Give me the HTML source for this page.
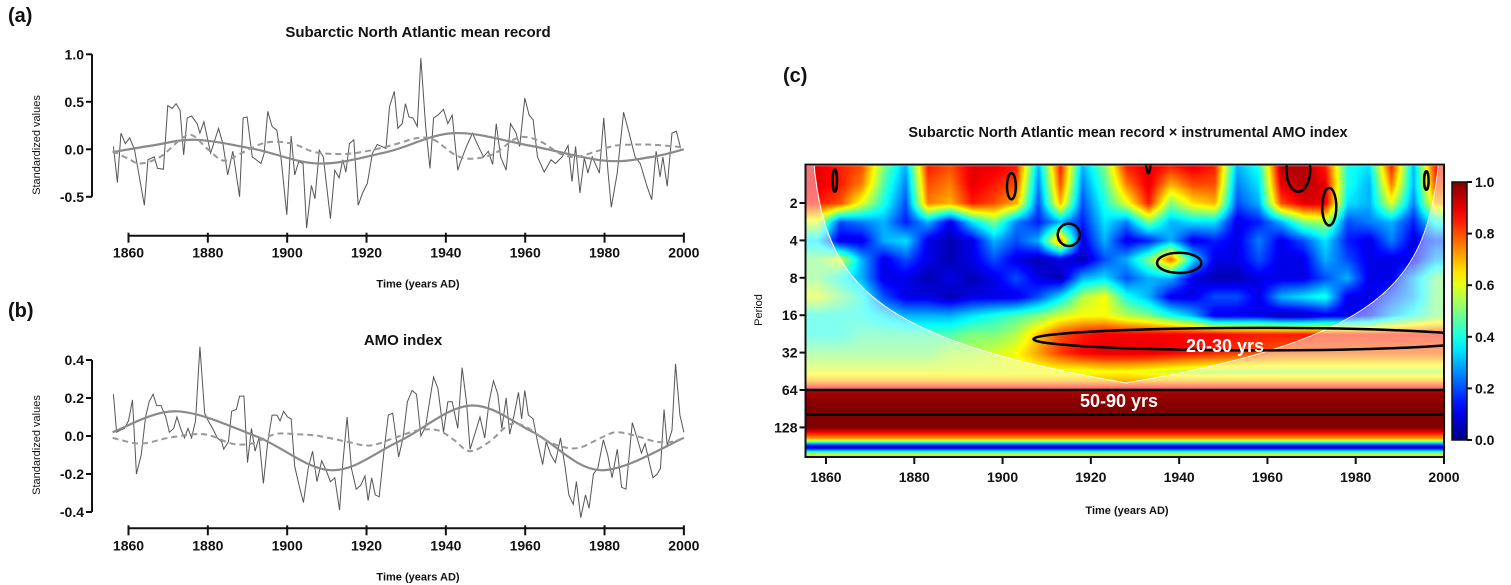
<!DOCTYPE html>
<html><head><meta charset="utf-8"><style>
html,body{margin:0;padding:0;background:#fff;}
#wrap{position:relative;width:1511px;height:585px;overflow:hidden;font-family:"Liberation Sans",Arial,sans-serif;}
#hm{position:absolute;left:0;top:0;}
#svg{position:absolute;left:0;top:0;}
text{font-family:"Liberation Sans Narrow","Liberation Sans",Arial,sans-serif;}
</style></head><body>
<div id="wrap">
<canvas id="hm" width="1511" height="585"></canvas>
<svg id="svg" width="1511" height="585" xmlns="http://www.w3.org/2000/svg"></svg>
</div>
<script>
// ---------- Panel (a) data ----------
const yearsA=[1856.2,1857.2,1858.1,1859.2,1860.3,1861.5,1864,1864.9,1866.5,1867.3,1868.8,1869.9,1871,1872,1873,1873.9,1874.8,1875.9,1877.3,1878,1879,1880.7,1882.7,1883.8,1885,1886.3,1888,1888.9,1889.9,1891.2,1892.2,1893.4,1894.2,1895.1,1896.2,1897.4,1898.5,1899.9,1901,1901.9,1902.9,1904,1904.9,1906.1,1907,1908.1,1909.1,1910.9,1912,1913.1,1914,1914.8,1915.7,1916.8,1917.9,1919,1920.2,1921.5,1922.7,1923.8,1924.9,1925.8,1927,1927.9,1929,1929.8,1930.7,1931.7,1932.8,1933.7,1934.9,1936,1936.9,1938,1939.4,1940.5,1941.6,1943,1943.9,1945.2,1946.7,1948.2,1949.5,1950.7,1951.8,1952.7,1953.8,1955.2,1956.3,1957.7,1958.6,1959.9,1961,1962,1963.1,1964.8,1966.5,1967.6,1969.3,1970.8,1971.8,1972.7,1973.8,1974.9,1975.8,1976.9,1978.7,1979.8,1980.9,1981.7,1983.2,1984.8,1986.2,1987.7,1989,1990.7,1991.9,1993,1994,1994.7,1995.8,1997,1998.1,1999.2];
const valuesA=[0.03,-0.35,0.17,0.06,0.12,0.0,-0.59,-0.11,-0.08,-0.2,-0.21,0.46,0.43,0.48,0.41,-0.06,0.33,0.35,0.27,0.17,0.29,-0.04,0.22,0.06,-0.27,-0.02,-0.5,0.33,0.34,-0.08,-0.11,-0.15,-0.04,0.4,0.24,0.2,-0.11,-0.69,0.14,-0.27,-0.13,-0.15,-0.83,-0.38,-0.52,-0.01,-0.08,-0.73,-0.22,-0.3,-0.11,-0.24,0.06,0.1,-0.59,-0.46,-0.36,-0.04,0.05,0.03,0.01,0.45,0.61,0.22,0.27,0.48,0.34,0.33,0.24,0.96,0.24,-0.2,0.33,0.36,0.42,0.27,0.36,-0.22,-0.11,0.03,0.17,0.03,-0.08,-0.02,-0.16,0.27,-0.08,-0.22,0.27,0.17,0.03,0.54,0.36,0.31,-0.08,-0.24,-0.11,-0.15,-0.08,0.04,-0.34,0.03,-0.46,-0.09,-0.25,-0.08,-0.25,0.33,-0.25,-0.61,-0.25,0.39,0.17,-0.08,-0.15,-0.39,-0.53,-0.02,-0.29,-0.08,-0.39,0.17,0.19,0.01];
const smoothYearsA=[1856,1866,1877,1892,1908,1925,1942,1961,1980,1992,2000];
const smoothValuesA=[-0.03,0.04,0.1,0.0,-0.15,-0.03,0.17,0.04,-0.12,-0.08,0.0];
const dashYearsA=[1856,1860,1863,1868,1873,1876,1880,1884,1888,1893,1897,1902,1907,1914,1920,1927,1933,1937,1942,1946,1952,1957,1960,1964,1969,1973,1978,1983,1990,1995,2000];
const dashValuesA=[-0.02,-0.1,-0.15,-0.08,0.1,0.15,0.0,-0.12,-0.05,0.05,0.08,0.05,-0.03,-0.05,-0.02,0.05,0.12,0.1,-0.05,-0.1,-0.05,0.1,0.13,0.08,-0.05,-0.08,-0.02,0.04,0.05,0.04,0.02];
const ticksYA=[1.0,0.5,0.0,-0.5];
// ---------- Panel (b) data ----------
const yearsB=[1856.2,1857,1857.9,1859,1860,1861,1862,1863.2,1864.3,1865.2,1866.2,1867.1,1868.2,1869.4,1870.3,1871.4,1872.2,1873.3,1874.1,1875,1875.9,1876.9,1878,1879.2,1880.1,1881.2,1882.4,1883.5,1884,1885.2,1886,1887.2,1888,1889.1,1890,1891,1891.9,1892.9,1894,1895.1,1896.2,1897.4,1898.2,1899.1,1900.1,1901,1901.9,1903,1904.1,1905.3,1906.4,1907.5,1908.7,1909.8,1910.9,1912,1913.2,1914,1915.1,1916.2,1917.4,1918.5,1919.6,1920.4,1921.3,1922.2,1923.2,1924.4,1925.5,1926.6,1928.1,1929.2,1930.3,1931.5,1932.6,1933.7,1934.9,1935.8,1936.9,1938,1939.4,1940.5,1941.6,1943,1944.1,1945.2,1946.1,1947.3,1948.6,1949.8,1950.9,1952,1953.1,1954.1,1955.2,1956.1,1957.2,1958.3,1959.1,1959.9,1960.8,1962,1963.1,1964.4,1965.3,1966.5,1967.6,1968.9,1970.1,1971,1972.1,1972.9,1974,1975.2,1976.1,1977.2,1978.3,1979.7,1980.8,1981.9,1983.2,1984.3,1985.4,1987,1988.2,1989.3,1990.2,1991.3,1992.2,1993.3,1994.1,1995,1995.8,1997,1997.9,1999,2000];
const valuesB=[0.22,0.02,0.03,0.04,0.08,0.19,-0.2,-0.1,0.1,0.18,0.22,0.16,0.16,0.1,0.02,0.04,0.1,0.03,-0.01,0.04,-0.01,0.08,0.47,0.12,0.08,0.04,-0.01,-0.03,-0.07,-0.03,0.13,0.14,0.21,0.21,-0.14,0.04,-0.08,-0.01,-0.25,-0.03,0.11,0.11,0.08,0.13,0.1,0.09,-0.16,-0.26,-0.35,-0.17,-0.08,-0.24,-0.13,-0.18,-0.24,-0.22,-0.39,-0.15,0.1,-0.17,-0.28,-0.26,-0.21,-0.34,-0.22,-0.31,-0.32,-0.08,0.11,0.12,-0.11,-0.01,0.18,0.24,0.22,0.0,0.05,0.17,0.31,0.25,0.02,0.18,0.18,0.04,0.36,0.18,-0.07,0.01,0.1,-0.01,0.18,0.29,0.22,0.04,0.2,0.01,0.11,0.23,0.09,0.24,0.11,0.09,-0.03,-0.15,-0.03,-0.1,-0.14,-0.01,-0.17,-0.31,-0.36,-0.24,-0.43,-0.31,-0.38,-0.2,-0.17,-0.02,-0.1,-0.22,-0.07,-0.27,-0.28,0.07,-0.01,-0.09,-0.04,-0.14,-0.22,-0.2,-0.17,0.14,-0.05,0.03,0.38,0.11,0.02];
const smoothYearsB=[1856,1872,1892,1911,1928,1946,1962,1979,2000];
const smoothValuesB=[0.02,0.13,0.0,-0.18,-0.03,0.16,0.02,-0.18,-0.01];
const dashYearsB=[1856,1863,1870,1877,1881,1886,1891,1897,1902,1908,1915,1921,1927,1933,1938,1942,1946,1951,1956,1960,1965,1970,1974,1979,1983,1988,1993,1997,2000];
const dashValuesB=[-0.01,-0.04,-0.01,0.01,0.0,-0.04,-0.04,0.01,0.01,0.0,-0.03,-0.05,-0.01,0.03,0.03,-0.02,-0.08,-0.03,0.06,0.05,-0.02,-0.06,-0.06,-0.01,0.02,0.0,-0.03,-0.03,-0.01];
const ticksYB=[0.4,0.2,0.0,-0.2,-0.4];
const ticksX=[1860,1880,1900,1920,1940,1960,1980,2000];
// ---------- Panel (c) data ----------
const gridYears=[1858,1863,1868,1873,1878,1883,1888,1893,1898,1903,1908,1913,1918,1923,1928,1933,1938,1943,1948,1953,1958,1963,1968,1973,1978,1983,1988,1993,1998];
const gridLog2=[0,0.5,1,1.5,2,2.5,3,3.5,4,4.5,5,5.5];
const coh0=[0.9,0.85,0.8,0.5,0.3,0.85,0.8,0.9,0.9,0.85,0.3,0.85,0.3,0.5,0.85,0.9,0.85,0.9,0.85,0.3,0.4,0.95,0.95,0.85,0.4,0.35,0.85,0.3,0.85];
const coh1=[0.9,0.85,0.75,0.45,0.25,0.8,0.75,0.9,0.85,0.8,0.25,0.8,0.25,0.45,0.75,0.9,0.7,0.8,0.8,0.25,0.35,0.9,0.95,0.9,0.4,0.3,0.75,0.3,0.8];
const coh2=[0.85,0.8,0.6,0.4,0.2,0.75,0.7,0.85,0.8,0.7,0.2,0.7,0.2,0.4,0.6,0.85,0.5,0.65,0.7,0.2,0.3,0.8,0.9,0.9,0.35,0.3,0.6,0.25,0.7];
const coh3=[0.6,0.2,0.25,0.3,0.15,0.3,0.1,0.35,0.5,0.25,0.15,0.3,0.15,0.35,0.25,0.5,0.3,0.35,0.35,0.1,0.15,0.3,0.5,0.55,0.2,0.25,0.3,0.15,0.4];
const coh4=[0.35,0.1,0.1,0.3,0.35,0.1,0.05,0.1,0.3,0.2,0.3,0.75,0.1,0.3,0.1,0.15,0.3,0.1,0.15,0.1,0.25,0.1,0.2,0.35,0.15,0.1,0.25,0.1,0.2];
const coh5=[0.5,0.6,0.3,0.1,0.2,0.1,0.05,0.1,0.2,0.1,0.05,0.1,0.05,0.2,0.3,0.5,0.78,0.35,0.1,0.1,0.2,0.1,0.1,0.3,0.2,0.1,0.1,0.1,0.3];
const coh6=[0.5,0.4,0.3,0.1,0.1,0.05,0.1,0.05,0.1,0.2,0.1,0.05,0.3,0.35,0.2,0.3,0.3,0.1,0.05,0.05,0.1,0.1,0.1,0.2,0.3,0.1,0.1,0.3,0.5];
const coh7=[0.6,0.5,0.4,0.2,0.1,0.1,0.05,0.1,0.1,0.1,0.2,0.35,0.55,0.62,0.4,0.3,0.1,0.1,0.2,0.2,0.1,0.3,0.35,0.4,0.1,0.1,0.2,0.3,0.5];
const coh8=[0.4,0.4,0.4,0.35,0.3,0.3,0.3,0.35,0.4,0.45,0.5,0.58,0.62,0.62,0.55,0.5,0.4,0.3,0.1,0.1,0.1,0.05,0.05,0.1,0.1,0.15,0.3,0.4,0.5];
const coh9=[0.4,0.4,0.45,0.45,0.45,0.45,0.45,0.5,0.5,0.55,0.68,0.8,0.85,0.88,0.88,0.88,0.88,0.88,0.88,0.86,0.85,0.85,0.85,0.84,0.84,0.84,0.84,0.84,0.84];
const coh10=[0.5,0.5,0.5,0.5,0.5,0.5,0.55,0.55,0.58,0.62,0.72,0.82,0.88,0.9,0.9,0.9,0.88,0.86,0.84,0.82,0.8,0.78,0.78,0.78,0.78,0.78,0.78,0.78,0.78];
const coh11=[0.6,0.6,0.6,0.6,0.6,0.6,0.6,0.6,0.6,0.6,0.6,0.6,0.6,0.62,0.62,0.6,0.58,0.56,0.55,0.55,0.55,0.55,0.55,0.55,0.55,0.55,0.55,0.55,0.55];
const bandLog2=[5.75,5.85,5.95,6.1,6.5,7.0,7.1,7.2,7.3,7.35,7.42,7.5,7.56,7.62,7.68,7.74,7.8,7.9];
const bandValues=[0.7,0.8,0.9,0.97,1.0,1.0,0.9,0.8,0.7,0.55,0.3,0.08,0.15,0.35,0.5,0.65,0.8,0.9];
const contourYear=[1862,1902,1933,1915,1940,1967,1974,1996];
const contourLog2=[0.4,0.55,-0.1,1.85,2.6,0.1,1.1,0.4];
const contourRx=[0.5,1,0.5,2.5,5,2.7,1.6,0.5];
const contourRy=[0.3,0.35,0.3,0.3,0.27,0.6,0.5,0.25];
const bigContourYear=1958, bigContourLog2=4.64, bigContourRx=51, bigContourRy=0.3;
const bandLineLog2=[6.0,6.66];
const periodTicks=[2,4,8,16,32,64,128];
const cbTicks=[1.0,0.8,0.6,0.4,0.2,0.0];

const coh=[coh0,coh1,coh2,coh3,coh4,coh5,coh6,coh7,coh8,coh9,coh10,coh11];
const NS="http://www.w3.org/2000/svg";
const svg=document.getElementById('svg');
function el(tag,attrs,parent,txt){const e=document.createElementNS(NS,tag);for(const k in attrs)e.setAttribute(k,attrs[k]);if(txt!==undefined)e.textContent=txt;(parent||svg).appendChild(e);return e;}
function txt(x,y,s,size,anchor,parent,extra){const t=el('text',Object.assign({x:x,y:y,'font-size':size,'font-weight':'bold','text-anchor':anchor||'middle',fill:'#111'},extra||{}),parent,s);return t;}
function smoothPath(pts){let d='M'+pts[0][0]+','+pts[0][1];for(let i=0;i<pts.length-1;i++){const p0=pts[i-1]||pts[i],p1=pts[i],p2=pts[i+1],p3=pts[i+2]||p2;const c1=[p1[0]+(p2[0]-p0[0])/6,p1[1]+(p2[1]-p0[1])/6],c2=[p2[0]-(p3[0]-p1[0])/6,p2[1]-(p3[1]-p1[1])/6];d+=' C'+c1[0]+','+c1[1]+' '+c2[0]+','+c2[1]+' '+p2[0]+','+p2[1];}return d;}

function linePanel(cfg){
  const g=el('g',{});
  
  
  const X=yr=>128.5+(yr-1860)*3.967;
  const Y=v=>cfg.y0-v*cfg.k;
  const lbl=txt(8,cfg.labelY,cfg.label,20,'start',g,{'font-family':'Liberation Sans'});
  
  
  const t=txt(cfg.titleX,cfg.titleY,cfg.title,15,'middle',g,{'font-family':'Liberation Sans'});
  
  
  const ya=el('g',{},g);
  
  
  const yt=cfg.yticks;
  el('line',{x1:92,x2:92,y1:Y(yt[0]),y2:Y(yt[yt.length-1]),stroke:'#111','stroke-width':2},ya);
  yt.forEach(v=>{el('line',{x1:86,x2:92,y1:Y(v),y2:Y(v),stroke:'#111','stroke-width':2},ya);
    const tl=txt(84,Y(v)+5,v.toFixed(1),14,'end',ya);
    
    });
  const yl=txt(0,0,'Standardized values',11,'middle',g,{transform:'translate(40,'+cfg.ytitleY+') rotate(-90)','font-family':'DejaVu Sans','font-weight':'normal'});
  
  
  const xa=el('g',{},g);
  
  
  el('line',{x1:X(1860),x2:X(2000),y1:cfg.axisY,y2:cfg.axisY,stroke:'#111','stroke-width':2},xa);
  ticksX.forEach(yr=>{el('line',{x1:X(yr),x2:X(yr),y1:cfg.axisY-3,y2:cfg.axisY+7,stroke:'#111','stroke-width':2},xa);
    const tl=txt(X(yr),cfg.axisY+22,String(yr),14,'middle',xa);
    
    });
  const xl=txt(418,cfg.axisY+52,'Time  (years AD)',11,'middle',g);
  
  
  const raw=el('polyline',{points:cfg.years.map((yr,i)=>X(yr)+','+Y(cfg.values[i])).join(' '),fill:'none',stroke:'#555','stroke-width':1},g);
  
  
  const sm=el('path',{d:smoothPath(cfg.sy.map((yr,i)=>[X(yr),Y(cfg.sv[i])])),fill:'none',stroke:'#8a8a8a','stroke-width':2.2},g);
  
  
  const ds=el('path',{d:smoothPath(cfg.dy.map((yr,i)=>[X(yr),Y(cfg.dv[i])])),fill:'none',stroke:'#999','stroke-width':2,'stroke-dasharray':'6,4'},g);
  
  
}
linePanel({name:'panel-a',label:'(a)',labelY:22,title:'Subarctic North Atlantic mean record',titleX:418,titleY:37,y0:149.3,k:95,yticks:ticksYA,ytitleY:145,axisY:235.7,years:yearsA,values:valuesA,sy:smoothYearsA,sv:smoothValuesA,dy:dashYearsA,dv:dashValuesA});
linePanel({name:'panel-b',label:'(b)',labelY:317,title:'AMO index',titleX:403,titleY:345,y0:436,k:190,yticks:ticksYB,ytitleY:445,axisY:528.3,years:yearsB,values:valuesB,sy:smoothYearsB,sv:smoothValuesB,dy:dashYearsB,dv:dashValuesB});

// ---------- Panel (c) ----------
const PL=805.5,PR=1444,PT=165.6,PB=457;
const XC=yr=>826+(yr-1860)*(1444-826)/140;
const YC=l=>PT+l*37.4;
const yrOf=x=>1860+(x-826)*140/(1444-826);
function jet(v){const c=t=>Math.max(0,Math.min(1,t));return [c(1.5-Math.abs(4*v-3)),c(1.5-Math.abs(4*v-2)),c(1.5-Math.abs(4*v-1))].map(z=>Math.round(z*255));}
function interp1(xs,vs,x){if(x<=xs[0])return vs[0];if(x>=xs[xs.length-1])return vs[vs.length-1];let i=0;while(xs[i+1]<x)i++;const f=(x-xs[i])/(xs[i+1]-xs[i]);return vs[i]*(1-f)+vs[i+1]*f;}
function coiLog2(yr){const d=Math.min(yr-1856,2000-yr);return d>0?Math.log2(0.78*d):-5;}
const ctx=document.getElementById('hm').getContext('2d');
const W=Math.round(PR-PL),H=Math.round(PB-PT);
const img=ctx.createImageData(W,H);
for(let px=0;px<W;px++){const yr=yrOf(PL+px+0.5);const cl=coiLog2(yr);const col=coh.map(r=>interp1(gridYears,r,yr));
  for(let py=0;py<H;py++){const l=(py+0.5)/37.4;let v;
    if(l<=5.5)v=interp1(gridLog2,col,l);else if(l>=5.75)v=interp1(bandLog2,bandValues,l);else{const f=(l-5.5)/0.25;v=interp1(gridLog2,col,5.5)*(1-f)+interp1(bandLog2,bandValues,5.75)*f;}
    let c=jet(v);if(l>cl&&l<5.95){c=c.map(z=>Math.round(z*0.55+255*0.45));}
    const i=(py*W+px)*4;img.data[i]=c[0];img.data[i+1]=c[1];img.data[i+2]=c[2];img.data[i+3]=255;}}
ctx.putImageData(img,Math.round(PL),Math.round(PT));

const gc=el('g',{});


const lc=txt(783,82,'(c)',20,'start',gc,{'font-family':'Liberation Sans'});


const tc=txt(1128,137,'Subarctic North Atlantic mean record × instrumental AMO index',14.5,'middle',gc,{'font-family':'Liberation Sans'});


const defs=el('defs',{},gc);
const cp=el('clipPath',{id:'plotclip'},defs);
el('rect',{x:PL,y:PT,width:PR-PL,height:PB-PT},cp);
let coiPts=[];for(let yr=1856.5;yr<=1999.5;yr+=0.5){const l=Math.min(coiLog2(yr),5.95);coiPts.push(XC(yr)+','+YC(Math.max(l,-1)));}
const coi=el('polyline',{points:coiPts.join(' '),fill:'none',stroke:'#fff','stroke-width':1,'clip-path':'url(#plotclip)'},gc);


const cg=el('g',{'clip-path':'url(#plotclip)'},gc);


contourYear.forEach((yr,i)=>{const e=el('ellipse',{cx:XC(yr),cy:YC(contourLog2[i]),rx:contourRx[i]*4.414,ry:contourRy[i]*37.4,fill:'none',stroke:'#000','stroke-width':2.5},cg);
  
  });
const bc=el('ellipse',{cx:XC(bigContourYear),cy:YC(bigContourLog2),rx:bigContourRx*4.414,ry:bigContourRy*37.4,fill:'none',stroke:'#000','stroke-width':2.5},cg);


bandLineLog2.forEach(l=>{const ln=el('line',{x1:PL,x2:PR,y1:YC(l),y2:YC(l),stroke:'#000','stroke-width':2.5},cg);
  
  });
const a1=txt(1225,352,'20-30 yrs',18,'middle',gc,{fill:'#fff'});


const a2=txt(1119,407,'50-90 yrs',18,'middle',gc,{fill:'#fff'});


const fr=el('rect',{x:PL,y:PT-1,width:PR-PL,height:PB-PT+1,fill:'none',stroke:'#111','stroke-width':2},gc);


const yac=el('g',{},gc);


periodTicks.forEach(p=>{const y=YC(Math.log2(p));el('line',{x1:PL-6,x2:PL,y1:y,y2:y,stroke:'#111','stroke-width':2},yac);
  const t=txt(PL-8,y+5,String(p),14,'end',yac);
  
  });
const pt=txt(0,0,'Period',11,'middle',gc,{transform:'translate(762,310) rotate(-90)','font-family':'DejaVu Sans','font-weight':'normal'});


const xac=el('g',{},gc);


ticksX.forEach(yr=>{el('line',{x1:XC(yr),x2:XC(yr),y1:PB,y2:PB+7,stroke:'#111','stroke-width':2},xac);
  const t=txt(XC(yr),PB+25,String(yr),14,'middle',xac);
  
  });
const xtc=txt(1127,514,'Time  (years AD)',11,'middle',gc);


const CBL=1452,CBR=1467,CBT=182,CBB=440;
const lg=el('linearGradient',{id:'jetg',x1:0,y1:1,x2:0,y2:0},defs);
for(let i=0;i<=20;i++){const c=jet(i/20);el('stop',{offset:(i/20),'stop-color':'rgb('+c.join(',')+')'},lg);}
const cb=el('rect',{x:CBL,y:CBT,width:CBR-CBL,height:CBB-CBT,fill:'url(#jetg)',stroke:'#111','stroke-width':1.5},gc);


cbTicks.forEach(v=>{const y=CBB-v*(CBB-CBT);el('line',{x1:CBR,x2:CBR+5,y1:y,y2:y,stroke:'#111','stroke-width':2},gc);
  const t=txt(CBR+8,y+5,v.toFixed(1),14,'start',gc);
  
  });
</script>
</body></html>
